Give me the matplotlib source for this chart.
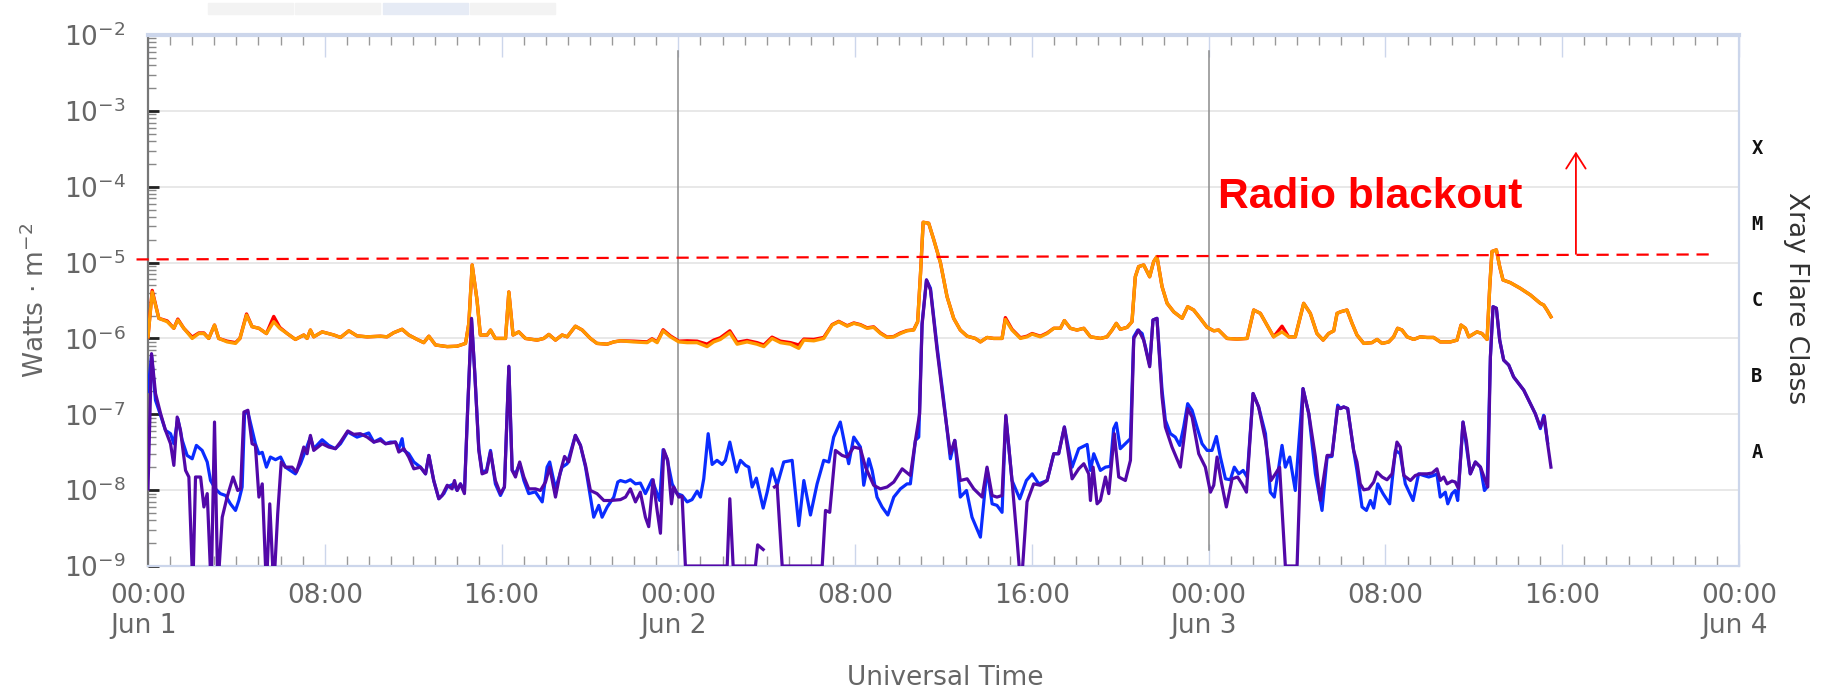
import numpy as np
import matplotlib
matplotlib.use("Agg")
import matplotlib.pyplot as plt
from matplotlib.ticker import MultipleLocator, LogLocator, NullFormatter
from matplotlib.patches import Rectangle
import matplotlib.transforms as mtransforms

# --- data: hours since Jun 1 00:00 UT ---
# long channel (0.1-0.8 nm), units of 1e-6 W/m^2
t_long = [0.00, 0.19, 0.49, 0.87, 1.17, 1.35, 1.62, 2.00, 2.30, 2.53,
          2.75, 3.01, 3.20, 3.58, 3.96, 4.16, 4.46, 4.71, 5.02, 5.36,
          5.69, 5.96, 6.30, 6.67, 7.05, 7.20, 7.35, 7.50, 7.88, 8.41,
          8.71, 9.09, 9.46, 9.92, 10.52, 10.82, 11.12, 11.50, 11.80, 12.18,
          12.48, 12.71, 13.01, 13.54, 13.99, 14.37, 14.52, 14.67, 14.89, 15.04,
          15.35, 15.50, 15.72, 16.18, 16.33, 16.52, 16.78, 17.08, 17.61, 17.91,
          18.14, 18.44, 18.74, 18.97, 19.34, 19.65, 20.02, 20.32, 20.78, 21.08,
          21.38, 21.98, 22.59, 22.81, 23.04, 23.31, 23.64, 24.02, 24.40, 24.85,
          25.30, 25.60, 25.90, 26.33, 26.66, 27.11, 27.56, 27.87, 28.24, 28.62,
          29.07, 29.45, 29.68, 30.13, 30.58, 30.96, 31.26, 31.64, 31.94, 32.24,
          32.54, 32.84, 33.15, 33.45, 33.75, 34.05, 34.35, 34.65, 34.83, 34.96,
          35.08, 35.33, 35.56, 35.86, 36.16, 36.46, 36.76, 37.07, 37.44, 37.67,
          37.97, 38.27, 38.65, 38.80, 39.10, 39.48, 39.78, 40.01, 40.38, 40.69,
          40.99, 41.29, 41.47, 41.74, 42.04, 42.35, 42.65, 43.10, 43.40, 43.63,
          43.82, 44.00, 44.31, 44.53, 44.68, 44.83, 45.06, 45.33, 45.51, 45.66,
          45.89, 46.12, 46.42, 46.80, 47.05, 47.32, 47.62, 47.93, 48.23, 48.45,
          48.83, 49.28, 49.74, 50.04, 50.34, 50.64, 50.94, 51.32, 51.62, 51.92,
          52.30, 52.60, 52.90, 53.18, 53.43, 53.66, 53.81, 53.96, 54.26, 54.49,
          54.71, 55.02, 55.39, 55.62, 55.85, 56.15, 56.37, 56.55, 56.75, 56.98,
          57.28, 57.58, 57.88, 58.18, 58.48, 58.94, 59.24, 59.42, 59.62, 59.77,
          60.14, 60.37, 60.60, 60.72, 60.82, 61.02, 61.17, 61.32, 61.65, 62.10,
          62.56, 63.01, 63.16, 63.31, 63.49]

long_orange = [1.05, 4.1, 1.84, 1.66, 1.36, 1.75, 1.36, 1.00, 1.16, 1.16,
               1.00, 1.50, 1.00, 0.90, 0.86, 1.00, 2.03, 1.43, 1.36, 1.16,
               1.66, 1.36, 1.16, 0.97, 1.11, 1.00, 1.29, 1.05, 1.22, 1.11,
               1.03, 1.26, 1.08, 1.05, 1.07, 1.05, 1.19, 1.32, 1.11, 0.97,
               0.88, 1.07, 0.82, 0.78, 0.79, 0.86, 1.58, 9.3, 3.2, 1.11,
               1.11, 1.29, 1.00, 1.00, 4.1, 1.11, 1.22, 1.00, 0.95, 1.00,
               1.13, 0.95, 1.11, 1.05, 1.45, 1.29, 1.00, 0.86, 0.84, 0.90,
               0.93, 0.90, 0.88, 0.97, 0.88, 1.26, 1.05, 0.90, 0.88, 0.88,
               0.78, 0.90, 0.97, 1.19, 0.84, 0.90, 0.84, 0.78, 1.00, 0.88,
               0.84, 0.74, 0.95, 0.93, 1.00, 1.50, 1.66, 1.45, 1.58, 1.50,
               1.36, 1.40, 1.16, 1.03, 1.05, 1.16, 1.26, 1.29, 1.66, 7.2,
               34, 33, 20, 10, 3.56, 1.84, 1.29, 1.07, 1.00, 0.90,
               1.03, 1.00, 1.00, 1.78, 1.29, 1.00, 1.05, 1.14, 1.05, 1.16,
               1.36, 1.36, 1.72, 1.36, 1.29, 1.36, 1.05, 1.00, 1.05, 1.29,
               1.58, 1.32, 1.40, 1.66, 6.5, 8.85, 9.3, 6.5, 10.3, 12.0,
               4.82, 2.90, 2.24, 1.84, 2.62, 2.37, 1.84, 1.40, 1.26, 1.29,
               1.00, 0.98, 1.00, 2.37, 2.14, 1.50, 1.05, 1.22, 1.05, 1.05,
               2.90, 2.14, 1.16, 0.95, 1.16, 1.26, 2.14, 2.24, 2.37, 1.58,
               1.11, 0.86, 0.88, 0.97, 0.86, 0.90, 1.05, 1.36, 1.29, 1.05,
               0.97, 1.05, 1.03, 1.03, 0.90, 0.90, 0.95, 1.50, 1.36, 1.05,
               1.22, 1.16, 0.97, 4.82, 14.0, 14.7, 8.85, 5.9, 5.44, 4.58,
               3.74, 2.90, 2.76, 2.37, 1.93]

long_red = [1.05, 4.3, 1.84, 1.70, 1.36, 1.80, 1.36, 1.04, 1.18, 1.18,
            1.00, 1.50, 1.00, 0.92, 0.88, 1.00, 2.10, 1.43, 1.36, 1.16,
            1.95, 1.40, 1.16, 0.97, 1.11, 1.00, 1.29, 1.05, 1.22, 1.11,
            1.03, 1.26, 1.08, 1.05, 1.07, 1.05, 1.19, 1.32, 1.11, 0.97,
            0.88, 1.07, 0.82, 0.78, 0.79, 0.86, 1.58, 9.3, 3.2, 1.11,
            1.11, 1.29, 1.00, 1.00, 4.1, 1.11, 1.22, 1.00, 0.95, 1.00,
            1.13, 0.95, 1.11, 1.05, 1.45, 1.29, 1.00, 0.86, 0.84, 0.90,
            0.93, 0.92, 0.90, 0.99, 0.90, 1.30, 1.08, 0.92, 0.93, 0.92,
            0.84, 0.95, 1.02, 1.26, 0.89, 0.94, 0.88, 0.82, 1.04, 0.92,
            0.88, 0.82, 0.98, 0.97, 1.03, 1.52, 1.68, 1.47, 1.60, 1.52,
            1.38, 1.42, 1.18, 1.04, 1.06, 1.18, 1.27, 1.30, 1.66, 7.2,
            34, 33, 20, 10, 3.56, 1.84, 1.29, 1.07, 1.00, 0.90,
            1.03, 1.00, 1.00, 1.88, 1.32, 1.02, 1.07, 1.16, 1.07, 1.18,
            1.36, 1.36, 1.72, 1.36, 1.29, 1.36, 1.05, 1.00, 1.05, 1.29,
            1.58, 1.32, 1.40, 1.66, 6.5, 8.85, 9.3, 6.5, 10.3, 12.0,
            4.82, 2.90, 2.24, 1.84, 2.62, 2.37, 1.84, 1.40, 1.26, 1.29,
            1.00, 0.98, 1.00, 2.37, 2.14, 1.50, 1.05, 1.45, 1.05, 1.05,
            2.90, 2.14, 1.16, 0.95, 1.16, 1.26, 2.14, 2.24, 2.37, 1.58,
            1.11, 0.86, 0.88, 0.97, 0.86, 0.90, 1.05, 1.36, 1.29, 1.05,
            0.97, 1.05, 1.03, 1.03, 0.90, 0.90, 0.95, 1.50, 1.36, 1.05,
            1.22, 1.16, 0.97, 4.82, 14.0, 14.7, 8.85, 5.9, 5.44, 4.58,
            3.74, 2.90, 2.76, 2.37, 1.93]

# short channel (0.05-0.4 nm), (hour, units of 1e-8 W/m^2)
short_blue = [
    (0.0, 20), (0.16, 60), (0.34, 15.3), (0.57, 9.7), (0.79, 6.15), (1.02, 5.55), (1.17, 4.09),
    (1.35, 8.8), (1.55, 4.53), (1.77, 2.87), (2.00, 2.59), (2.19, 3.89), (2.45, 3.34), (2.68, 2.35),
    (2.83, 1.34), (3.05, 1.04), (3.27, 0.90), (3.51, 0.85), (3.73, 0.66), (3.96, 0.54), (4.11, 0.73),
    (4.26, 1.10), (4.37, 10.2), (4.52, 10.7), (4.86, 4.09), (5.02, 3.02), (5.17, 3.15), (5.36, 2.01),
    (5.54, 2.73), (5.77, 2.52), (6.00, 2.73), (6.22, 2.01), (6.67, 1.64), (6.90, 2.23), (7.13, 3.34),
    (7.35, 5.0), (7.50, 3.52), (7.88, 4.62), (8.18, 3.89), (8.48, 3.52), (8.71, 4.09), (9.04, 5.85),
    (9.46, 5.0), (9.99, 5.67), (10.22, 4.30), (10.52, 4.77),
    (10.75, 4.09), (10.97, 4.30), (11.20, 4.30), (11.35, 3.52), (11.50, 4.77), (11.58, 3.34),
    (11.80, 3.02), (12.03, 2.35), (12.33, 2.01), (12.56, 1.64), (12.71, 2.87), (12.93, 1.34),
    (13.16, 0.77), (13.39, 0.90), (13.54, 1.10), (13.84, 1.21), (13.99, 0.99), (14.14, 1.21),
    (14.32, 0.95), (14.47, 12.5), (14.64, 180), (14.79, 34), (14.97, 3.52), (15.12, 1.73),
    (15.32, 1.82), (15.50, 3.34), (15.72, 1.21), (15.95, 0.85), (16.13, 1.10), (16.33, 42),
    (16.48, 1.82), (16.63, 1.64), (16.82, 2.23), (17.01, 1.34), (17.23, 0.90), (17.53, 0.95),
    (17.84, 0.70), (18.06, 2.01), (18.18, 2.35), (18.44, 1.04), (18.74, 2.01), (18.97, 2.23),
    (19.34, 5.27), (19.57, 3.89), (19.80, 2.01), (20.02, 0.81), (20.17, 0.44), (20.40, 0.63),
    (20.55, 0.44), (20.78, 0.60), (21.08, 0.81), (21.26, 1.28),
    (21.38, 1.34), (21.61, 1.28), (21.83, 1.37), (22.06, 1.21), (22.28, 1.24), (22.51, 0.90),
    (22.81, 1.37), (23.04, 0.90), (23.16, 0.73), (23.31, 3.41), (23.49, 2.59), (23.72, 1.21),
    (23.94, 0.90), (24.17, 0.85), (24.40, 0.70), (24.62, 0.75), (24.85, 0.97), (25.00, 0.81),
    (25.15, 1.41), (25.35, 5.55), (25.53, 2.18), (25.75, 2.47), (25.98, 2.18), (26.13, 2.47),
    (26.33, 4.30), (26.63, 1.73), (26.81, 2.47), (27.04, 2.12), (27.19, 2.01), (27.34, 1.10),
    (27.53, 1.44), (27.84, 0.58), (28.02, 0.94), (28.24, 1.91), (28.47, 1.16), (28.77, 2.35),
    (29.15, 2.47), (29.45, 0.34), (29.68, 1.34), (29.98, 0.47), (30.28, 1.21), (30.58, 2.47),
    (30.81, 2.35), (31.03, 5.0), (31.33, 7.9), (31.71, 2.23), (31.94, 5.0),
    (32.24, 3.70), (32.39, 1.16), (32.62, 2.59), (32.77, 1.82), (32.99, 0.81), (33.22, 0.60),
    (33.48, 0.47), (33.75, 0.81), (34.05, 1.04), (34.35, 1.21), (34.50, 1.21), (34.73, 4.53),
    (34.88, 5.0), (35.03, 158), (35.23, 590), (35.41, 458), (35.71, 77.6), (36.01, 15.3),
    (36.31, 2.59), (36.51, 4.53), (36.76, 0.81), (37.04, 0.99), (37.29, 0.44), (37.67, 0.24),
    (37.97, 1.91), (38.20, 0.66), (38.42, 0.63), (38.65, 0.51), (38.82, 9.4), (39.10, 1.34),
    (39.45, 0.77), (39.75, 1.34), (40.01, 1.64), (40.31, 1.21), (40.69, 1.34), (40.99, 3.02),
    (41.21, 3.02), (41.47, 6.8), (41.82, 2.01), (42.12, 3.52), (42.50, 4.0), (42.65, 1.82),
    (42.80, 3.02),
    (43.10, 1.82), (43.33, 2.01), (43.55, 2.06), (43.70, 6.47), (43.82, 7.67), (44.00, 3.52),
    (44.23, 4.09), (44.46, 4.77), (44.61, 105), (44.79, 129), (44.99, 116), (45.14, 77.6),
    (45.33, 44.5), (45.48, 175), (45.66, 184), (45.89, 20.8), (46.04, 8.34), (46.27, 5.55),
    (46.49, 5.0), (46.69, 3.89), (46.87, 6.8), (47.05, 13.8), (47.25, 11.3), (47.47, 6.8),
    (47.70, 4.09), (47.93, 3.34), (48.15, 3.34), (48.35, 5.1), (48.53, 2.73), (48.76, 1.41),
    (48.98, 1.37), (49.16, 2.01), (49.36, 1.64), (49.56, 1.82), (49.74, 1.49), (50.01, 18.8),
    (50.26, 12.5), (50.57, 5.55), (50.79, 0.94), (50.97, 0.81), (51.32, 3.89), (51.47, 2.01),
    (51.67, 2.73), (51.92, 0.99), (52.27, 21.8), (52.53, 10.2), (52.83, 1.64), (53.13, 0.54),
    (53.36, 2.73), (53.58, 2.78), (53.84, 13.2),
    (53.96, 11.9), (54.11, 12.5), (54.29, 11.9), (54.56, 3.34), (54.71, 1.82), (54.94, 0.60),
    (55.14, 0.54), (55.32, 0.73), (55.47, 0.58), (55.65, 1.21), (55.89, 0.90), (56.19, 0.66),
    (56.45, 3.34), (56.67, 3.02), (56.90, 1.21), (57.25, 0.73), (57.50, 1.64), (57.73, 1.56),
    (57.96, 1.49), (58.18, 1.56), (58.33, 1.64), (58.48, 0.81), (58.71, 0.94), (58.82, 0.66),
    (59.01, 0.90), (59.16, 0.99), (59.27, 0.73), (59.51, 7.9), (59.84, 1.64), (60.07, 2.35),
    (60.30, 2.01), (60.48, 0.99), (60.60, 1.10), (60.75, 57.3), (60.87, 262), (61.02, 250),
    (61.17, 95), (61.35, 51.8), (61.58, 44.5), (61.80, 31.1), (62.03, 25.4), (62.26, 20.8),
    (62.56, 13.8), (62.78, 10.2), (63.01, 6.47), (63.16, 9.7), (63.34, 4.2),
]

nan = float("nan")
short_purple = [
    (0.0, 1.04), (0.16, 63), (0.34, 18.8), (0.57, 10.2), (0.79, 6.15), (1.02, 4.09), (1.17, 2.12),
    (1.32, 9.2), (1.47, 6.15), (1.70, 1.82), (1.85, 1.49), (2.03, 0.05), (2.15, 1.49), (2.38, 1.49),
    (2.53, 0.60), (2.68, 0.90), (2.86, 0.05), (3.01, 7.9), (3.16, 0.05), (3.36, 0.44), (3.58, 0.81),
    (3.85, 1.49), (4.06, 0.99), (4.19, 1.04), (4.34, 10.7), (4.52, 11.3), (4.71, 4.09), (4.86, 3.89),
    (5.02, 0.81), (5.17, 1.21), (5.36, 0.05), (5.51, 0.66), (5.69, 0.05), (5.87, 0.49), (6.03, 2.35),
    (6.22, 2.01), (6.52, 2.01), (6.72, 1.73), (6.90, 2.59), (7.05, 3.70), (7.20, 3.02), (7.35, 5.27),
    (7.50, 3.34), (7.88, 4.09), (8.18, 3.70), (8.48, 3.52), (8.71, 4.30), (9.04, 6.03), (9.31, 5.44),
    (9.61, 5.55), (9.92, 5.0), (10.22, 4.30), (10.52, 4.53),
    (10.75, 4.09), (10.97, 4.17), (11.20, 4.30), (11.35, 3.18), (11.58, 3.52), (11.80, 2.73),
    (12.03, 1.91), (12.33, 2.01), (12.56, 1.64), (12.71, 2.87), (12.93, 1.34), (13.16, 0.77),
    (13.31, 0.85), (13.54, 1.16), (13.76, 1.04), (13.87, 1.34), (13.99, 0.99), (14.14, 1.21),
    (14.32, 0.90), (14.47, 12.5), (14.64, 184), (14.79, 34), (14.97, 3.34), (15.12, 1.64),
    (15.32, 1.73), (15.50, 3.18), (15.72, 1.34), (15.95, 0.90), (16.13, 1.10), (16.33, 43),
    (16.48, 1.82), (16.63, 1.49), (16.82, 2.35), (17.01, 1.49), (17.23, 1.04), (17.53, 1.04),
    (17.76, 0.99), (17.99, 1.28), (18.18, 2.01), (18.44, 0.81), (18.66, 1.73), (18.85, 2.78),
    (19.04, 2.35), (19.34, 5.27), (19.57, 3.89), (19.80, 2.12), (20.02, 0.99), (20.32, 0.90),
    (20.63, 0.73), (20.93, 0.73), (21.38, 0.75),
    (21.61, 0.81), (21.83, 1.04), (22.06, 0.70), (22.28, 0.94), (22.51, 0.44), (22.66, 0.33),
    (22.86, 1.37), (23.04, 0.54), (23.19, 0.27), (23.34, 3.41), (23.52, 2.47), (23.69, 0.66),
    (23.79, 1.10), (24.02, 0.81), (24.17, 0.83), (24.32, 0.1), (26.21, 0.1), (26.33, 0.77),
    (26.48, 0.1), (27.49, 0.1), (27.59, 0.19), (27.84, 0.165), (27.85, nan), (28.35, 1.10),
    (28.47, 1.16), (28.70, 0.1), (30.51, 0.1), (30.66, 0.54), (30.85, 0.51), (31.11, 3.34),
    (31.41, 2.87), (31.64, 2.73), (31.94, 3.70),
    (32.24, 3.52), (32.47, 2.01), (32.84, 1.16), (33.14, 1.04), (33.45, 1.10), (33.75, 1.28),
    (34.13, 1.91), (34.50, 1.56), (34.73, 4.53), (34.92, 10.2), (35.03, 150), (35.23, 590),
    (35.41, 436), (35.71, 70), (36.01, 13.8), (36.31, 3.02), (36.51, 4.53), (36.76, 1.34),
    (37.07, 1.41), (37.37, 1.04), (37.75, 0.81), (37.97, 2.01), (38.20, 0.85), (38.42, 0.81),
    (38.65, 0.85), (38.82, 9.7), (39.10, 1.34), (39.33, 0.22), (39.45, 0.08), (39.56, 0.08),
    (39.78, 0.70), (40.08, 1.21), (40.38, 1.16), (40.69, 1.34), (40.99, 3.02), (41.21, 3.02),
    (41.47, 6.8), (41.82, 1.41), (42.12, 1.91), (42.35, 2.23), (42.57, 1.64), (42.65, 0.73),
    (42.77, 2.01), (42.95, 0.66),
    (43.10, 0.73), (43.33, 1.49), (43.48, 0.90), (43.73, 5.55), (43.93, 1.49), (44.23, 1.34),
    (44.46, 2.47), (44.61, 100), (44.83, 129), (45.06, 95), (45.33, 42.3), (45.48, 175),
    (45.66, 184), (45.89, 16.9), (46.04, 6.8), (46.34, 3.70), (46.72, 2.01), (47.05, 11.9),
    (47.25, 9.2), (47.55, 3.02), (47.85, 2.01), (48.08, 0.94), (48.23, 1.16), (48.38, 2.73),
    (48.56, 1.34), (48.80, 0.60), (49.06, 1.41), (49.31, 1.49), (49.51, 1.21), (49.71, 0.94),
    (50.01, 18.8), (50.26, 12.5), (50.57, 4.53), (50.82, 1.34), (51.02, 1.64), (51.21, 2.01),
    (51.47, 0.1), (52.00, 0.1), (52.27, 21.8), (52.53, 10.2), (52.83, 2.73), (53.05, 0.73),
    (53.36, 2.87), (53.58, 2.87), (53.84, 12.5),
    (53.96, 11.9), (54.11, 12.5), (54.29, 11.9), (54.56, 3.34), (54.71, 2.35), (54.86, 1.21),
    (55.02, 1.01), (55.24, 1.04), (55.47, 1.28), (55.62, 1.73), (55.85, 1.49), (56.07, 1.37),
    (56.30, 1.64), (56.52, 4.30), (56.67, 3.70), (56.83, 1.56), (57.13, 1.34), (57.35, 1.56),
    (57.58, 1.64), (57.88, 1.64), (58.11, 1.68), (58.33, 1.91), (58.48, 1.34), (58.64, 1.49),
    (58.79, 1.21), (59.01, 1.32), (59.16, 1.28), (59.31, 1.04), (59.51, 7.9), (59.66, 4.53),
    (59.84, 1.64), (60.07, 2.35), (60.30, 2.01), (60.52, 1.34), (60.63, 1.10), (60.75, 57.3),
    (60.87, 262), (61.02, 250), (61.17, 95), (61.35, 51.8), (61.58, 44.5), (61.80, 31.1),
    (62.03, 25.4), (62.26, 20.8), (62.56, 13.8), (62.78, 10.2), (63.01, 6.8), (63.19, 9.4),
    (63.34, 4.09), (63.49, 2.01),
]

x_major = [0, 8, 16, 24, 32, 40, 48, 56, 64, 72]
x_labels = ["00:00\nJun 1", "08:00", "16:00", "00:00\nJun 2", "08:00", "16:00",
            "00:00\nJun 3", "08:00", "16:00", "00:00\nJun 4"]
flare_classes = ["A", "B", "C", "M", "X"]
class_levels = [10**-7.5, 10**-6.5, 10**-5.5, 10**-4.5, 10**-3.5]

# hand-drawn annotation: slanted dashed threshold + arrow
dash_x = [-0.52, 70.75]
dash_y = [1.10e-5, 1.28e-5]
arrow_x = 64.62
arrow_y = (1.30e-5, 2.9e-4)

W, H = 1823, 696
plt.rcParams["font.family"] = ["DejaVu Sans"]
fig = plt.figure(figsize=(W / 100, H / 100), dpi=100)
ax = fig.add_axes([148 / W, 130 / H, 1591 / W, 531 / H])

t_long = np.array(t_long)
bl = np.array(short_blue)
pu = np.array(short_purple)

ax.plot(t_long, np.array(long_red) * 1e-6, color="#ff0000", lw=2.4, zorder=3)
ax.plot(t_long, np.array(long_orange) * 1e-6, color="#ff9900", lw=2.4, zorder=4)
ax.plot(bl[:, 0], bl[:, 1] * 1e-8, color="#0a2cff", lw=2.3, zorder=3)
ax.plot(pu[:, 0], pu[:, 1] * 1e-8, color="#5208a8", lw=2.3, zorder=4)

ax.set_yscale("log")
ax.set_xlim(0, 72)
ax.set_ylim(1e-9, 1e-2)

ax.yaxis.grid(True, which="major", color="#e6e6e6", lw=1.3)
ax.set_axisbelow(True)
for d in (24, 48):
    ax.axvline(d, ymin=0.03, ymax=0.97, color="#8c8c8c", lw=1.1, zorder=2)

# axes ticks
ax.set_xticks(x_major)
ax.set_xticklabels(x_labels)
for lab in ax.get_xticklabels():
    lab.set_multialignment("left")
ax.xaxis.set_minor_locator(MultipleLocator(1))
ax.tick_params(axis="x", which="major", direction="in", length=16, width=1,
               color="#ccd6eb", top=True, labelsize=19, labelcolor="#666666", pad=12)
ax.tick_params(axis="x", which="minor", direction="in", length=7, width=1,
               color="#999999", top=True)
ax.yaxis.set_major_locator(LogLocator(base=10, numticks=10))
ax.yaxis.set_minor_locator(LogLocator(base=10, subs=np.arange(2, 10), numticks=20))
ax.yaxis.set_minor_formatter(NullFormatter())
ax.tick_params(axis="y", which="major", direction="in", length=8, width=2,
               color="#222222", labelsize=19, labelcolor="#666666", pad=16, right=False)
ax.tick_params(axis="y", which="minor", direction="in", length=6, width=1,
               color="#888888", right=False)

ax.spines["left"].set_color("#777777")
ax.spines["left"].set_linewidth(1.6)
ax.spines["top"].set_color("#ccd6eb")
ax.spines["top"].set_linewidth(3)
ax.spines["bottom"].set_color("#ccd6eb")
ax.spines["bottom"].set_linewidth(1.6)
ax.spines["right"].set_color("#ccd6eb")
ax.spines["right"].set_linewidth(1.6)

# radio blackout annotation
ax.plot(dash_x, dash_y, color="#ff0000", lw=1.6, ls=(0, (5.5, 3.5)), clip_on=False, zorder=5)
ax.annotate("", xy=(arrow_x, arrow_y[1]), xytext=(arrow_x, arrow_y[0]),
            arrowprops=dict(arrowstyle="->,head_length=0.55,head_width=0.35",
                            color="#ff0000", lw=1.3, shrinkA=0, shrinkB=0,
                            mutation_scale=20))
fig.text(1218 / W, 1 - 208 / H, "Radio blackout", color="#ff0000", fontsize=30.5,
         fontweight="bold", family="Liberation Sans", ha="left", va="baseline")

# flare class labels on the right
trans = mtransforms.blended_transform_factory(ax.transAxes, ax.transData)
for c, lv in zip(flare_classes, class_levels):
    ax.text(1.0113, lv, c, transform=trans, ha="center", va="center", fontsize=13.5,
            fontweight="bold", family="DejaVu Sans Mono", color="#111111")

fig.text(1796 / W, 1 - 298 / H, "Xray Flare Class", rotation=270, ha="center",
         va="center", fontsize=19, color="#333333")
fig.text(36 / W, 1 - 300 / H, "Watts · m$^{-2}$", rotation=90, ha="center",
         va="center", fontsize=19, color="#666666")
fig.text(945 / W, 1 - 678 / H, "Universal Time", ha="center", va="center",
         fontsize=19, color="#666666")

# faint tab strip at the very top
for x0, col in zip([208, 295, 383, 470], ["#f3f3f3", "#f3f3f3", "#e6ebf5", "#f3f3f3"]):
    fig.patches.append(Rectangle((x0 / W, 1 - 14 / H), 85 / W, 11 / H,
                                 transform=fig.transFigure, color=col, zorder=0))

fig.savefig("out.png", dpi=100)
